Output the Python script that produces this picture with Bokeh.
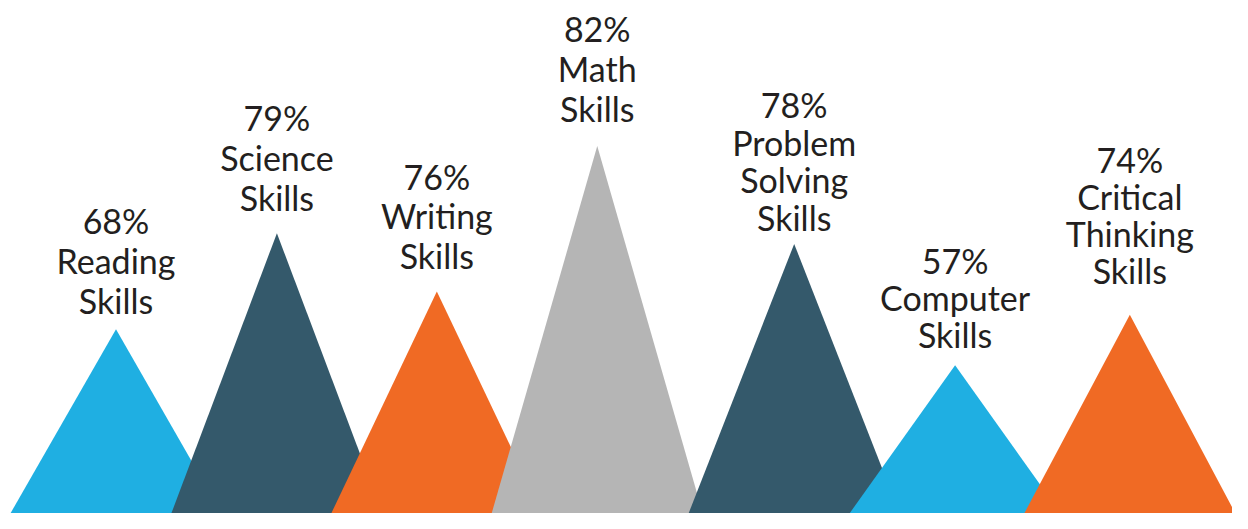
from bokeh.plotting import figure
from bokeh.models import ColumnDataSource, Range1d
from bokeh.core.properties import value
from bokeh.embed import file_html
from bokeh.resources import INLINE

# --- data ---
skills = ["Reading\nSkills", "Science\nSkills", "Writing\nSkills", "Math\nSkills",
          "Problem\nSolving\nSkills", "Computer\nSkills", "Critical\nThinking\nSkills"]
percents = [68, 79, 76, 82, 78, 57, 74]
# peak height of each mountain (pixel units of the original graphic)
peak_heights = [190, 289, 229, 379, 278, 153, 205]
# centre of each mountain along the baseline
centers = [117, 280, 442, 604.5, 804, 967, 1144]
colors = ["#1FAFE2", "#34596B", "#F06A24", "#B5B5B5", "#34596B", "#1FAFE2", "#F06A24"]

# --- layout / style ---
HALF = 107                                  # half base width of each mountain
label_gaps = [30, 37, 37, 39, 27, 31.5, 46]  # peak -> centre of bottom label line
label_lh = [41, 41, 41, 41, 39, 38, 38]      # label line height
FONT = "Lato"

W, H = 1232, 513
p = figure(width=W, height=H, output_backend="svg", toolbar_location=None,
           x_range=Range1d(0, 1248), y_range=Range1d(0, 529),
           min_border=0, background_fill_color="white", border_fill_color="white")
p.outline_line_color = None
p.axis.visible = False
p.grid.visible = False

xs = [[c - HALF, c, c + HALF] for c in centers]
ys = [[0, h, 0] for h in peak_heights]
src = ColumnDataSource(dict(xs=xs, ys=ys, color=colors))
p.patches("xs", "ys", source=src, fill_color="color", line_color=None)

tx, ty, tt = [], [], []
for c, h, name, pct, gap, lh in zip(centers, peak_heights, skills, percents, label_gaps, label_lh):
    lines = [f"{pct}%"] + name.split("\n")
    n = len(lines)
    for k, line in enumerate(lines):
        tx.append(c)
        ty.append(h + gap + (n - 1 - k) * lh)
        tt.append(line)
tsrc = ColumnDataSource(dict(x=tx, y=ty, text=tt))
p.text("x", "y", text="text", source=tsrc, text_align="center", text_baseline="middle",
       text_font=value(FONT), text_font_size="34px", text_color="#231F20")

open("out.html", "w").write(file_html(p, INLINE))
